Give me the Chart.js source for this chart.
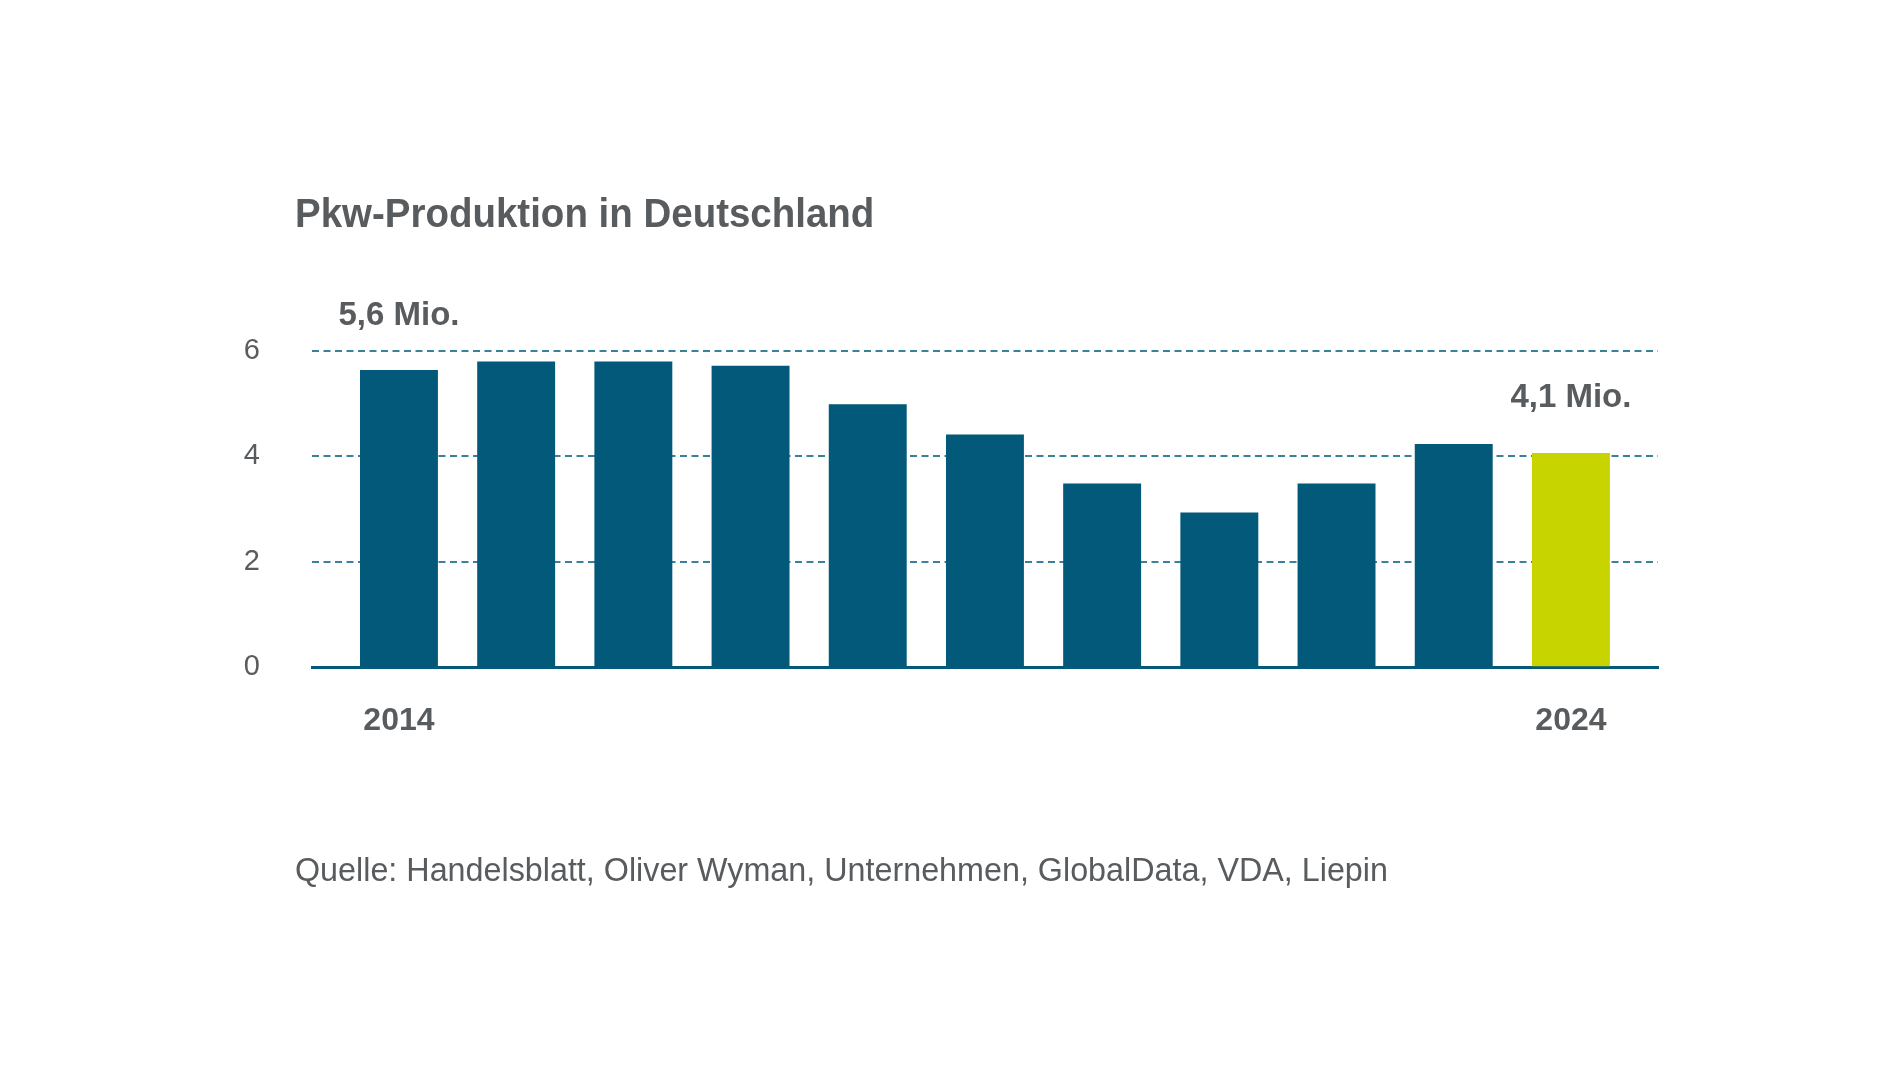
<!DOCTYPE html>
<html>
<head>
<meta charset="utf-8">
<script src="https://cdn.jsdelivr.net/npm/chart.js@4.4.1/dist/chart.umd.min.js"></script>
<style>
  html, body { margin:0; padding:0; background:#ffffff; }
  #wrap { position:relative; width:1900px; height:1069px; overflow:hidden; }
  canvas { position:absolute; left:0; top:0; }
  .txt { position:absolute; white-space:nowrap; color:#585c5f; line-height:1; }
  #title { left:295px; top:192.5px; font-family:'Liberation Sans',Arial,sans-serif; font-weight:bold; font-size:40px; transform:scaleX(0.962); transform-origin:0 0; }
  #source { left:295px; top:854px; font-family:'Liberation Sans',Arial,sans-serif; font-size:32.3px; }
</style>
</head>
<body>
<div id="wrap">
  <canvas id="c" width="1900" height="1069"></canvas>
  <div class="txt" id="title">Pkw-Produktion in Deutschland</div>
  <div class="txt" id="source">Quelle: Handelsblatt, Oliver Wyman, Unternehmen, GlobalData, VDA, Liepin</div>
</div>
<script>
// ---- data ----
const years = [2014, 2015, 2016, 2017, 2018, 2019, 2020, 2021, 2022, 2023, 2024];
const production = [5.63, 5.79, 5.79, 5.71, 4.98, 4.41, 3.48, 2.93, 3.48, 4.23, 4.06];
const xTickYears = [2014, 2024];
const yTicks = [0, 2, 4, 6];
const annotationIdx = [0, 10];
const annotationText = ['5,6 Mio.', '4,1 Mio.'];

const TEAL = '#03597a';
const LIME = '#c8d400';
const GREY = '#585c5f';
const GRID = '#3a819b';

const barColors = years.map(y => y === 2024 ? LIME : TEAL);

const annotPlugin = {
  id: 'annot',
  afterDatasetsDraw(chart) {
    const meta = chart.getDatasetMeta(0);
    const ctx = chart.ctx;
    ctx.save();
    ctx.font = 'bold 33px "Liberation Sans", Arial, sans-serif';
    ctx.fillStyle = GREY;
    ctx.textAlign = 'center';
    ctx.textBaseline = 'alphabetic';
    annotationIdx.forEach((idx, k) => {
      const el = meta.data[idx];
      ctx.fillText(annotationText[k], el.x, el.y - 45.5);
    });
    ctx.restore();
  }
};

new Chart(document.getElementById('c'), {
  type: 'bar',
  data: {
    datasets: [{
      data: years.map((y, i) => ({ x: y, y: production[i] })),
      backgroundColor: barColors,
      borderWidth: 0,
      barPercentage: 0.665,
      categoryPercentage: 1.0
    }]
  },
  options: {
    responsive: false,
    animation: false,
    devicePixelRatio: 1,
    layout: { padding: { left: 0, right: 242, top: 350.5, bottom: 301.7 } },
    plugins: { legend: { display: false }, tooltip: { enabled: false }, title: { display: false } },
    scales: {
      x: {
        type: 'linear',
        offset: false,
        min: 2013.258,
        max: 2024.743,
        z: 1,
        afterFit(scale) { scale.height = 100; },
        afterBuildTicks(scale) { scale.ticks = xTickYears.map(v => ({ value: v })); },
        grid: { display: false, offset: false, drawTicks: false },
        border: { display: true, color: TEAL, width: 3 },
        ticks: {
          padding: 34.5,
          color: GREY,
          font: { family: '"Liberation Sans", Arial, sans-serif', size: 32, weight: 'bold' },
          maxRotation: 0,
          autoSkip: false,
          callback: v => String(v)
        }
      },
      y: {
        min: 0,
        max: 6,
        afterFit(scale) { scale.width = 312; },
        afterBuildTicks(scale) { scale.ticks = yTicks.map(v => ({ value: v })); },
        grid: {
          drawTicks: false,
          lineWidth: 2,
          color: ctx => (ctx.tick && ctx.tick.value === 0) ? 'rgba(0,0,0,0)' : GRID
        },
        border: { display: false, dash: [7, 4.5] },
        ticks: {
          padding: 52,
          color: GREY,
          font: { family: '"Liberation Sans", Arial, sans-serif', size: 29 },
          callback: v => String(v)
        }
      }
    }
  },
  plugins: [annotPlugin]
});
</script>
</body>
</html>
